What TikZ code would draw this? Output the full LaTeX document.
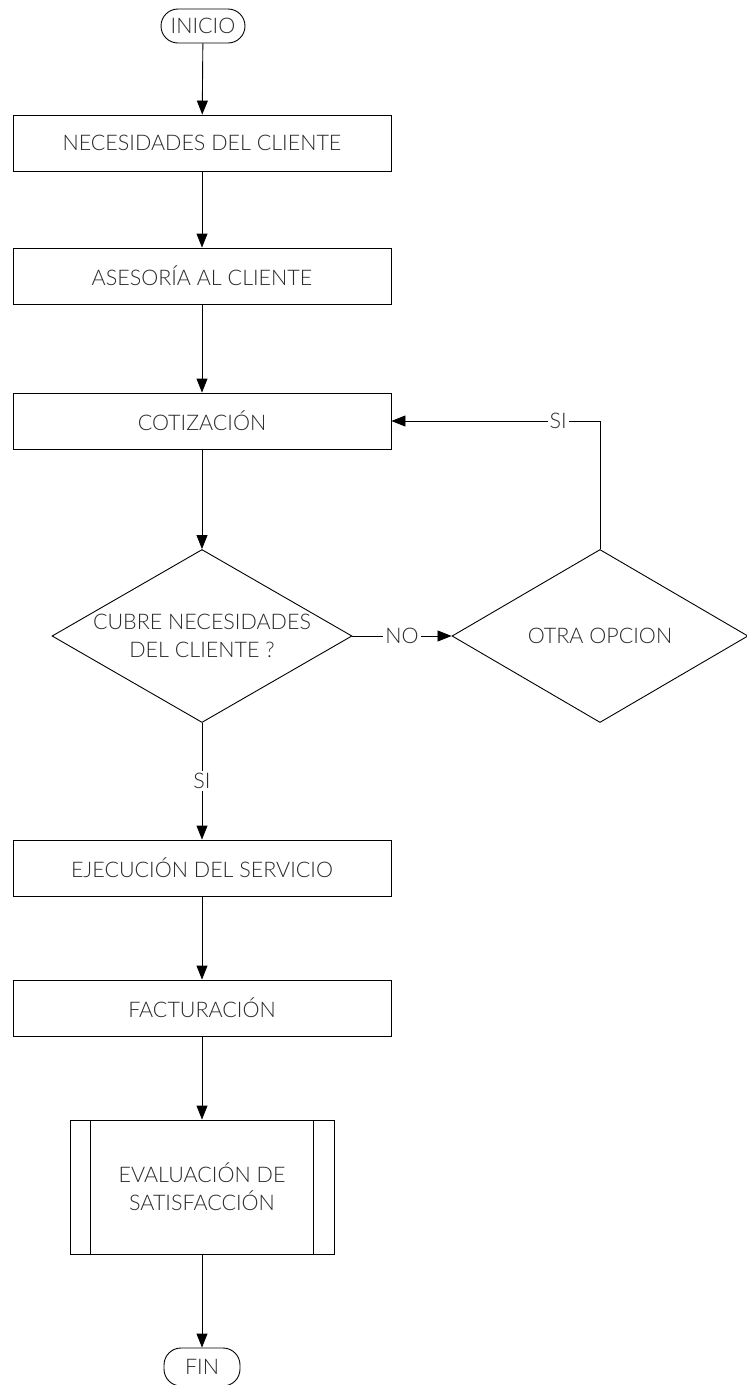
\documentclass[tikz,border=0pt]{standalone}
\usepackage{fontspec}
\setmainfont{Lato}[UprightFont={* Light}]
\usetikzlibrary{shapes.geometric,arrows.meta}
\definecolor{txt}{HTML}{2A2A2A}
\begin{document}
\begin{tikzpicture}[x=1pt,y=-1pt,
  every node/.style={font=\fontsize{21.5}{28}\selectfont, text=txt},
  proc/.style={draw, line width=0.9pt, minimum width=378pt, minimum height=56pt, inner sep=0pt},
  term/.style={draw, line width=0.9pt, rounded corners=17pt, minimum height=34pt, inner sep=0pt},
  decision/.style={draw, diamond, line width=0.9pt, minimum width=300pt, minimum height=173pt, inner sep=0pt},
  predef/.style={draw, line width=0.9pt, minimum width=264pt, minimum height=134pt, inner sep=0pt, align=center},
  flow/.style={line width=0.9pt, -{Triangle[width=11pt,length=14pt]}},
  lbl/.style={fill=white, inner sep=2pt}]
  \fill[white] (0,0) rectangle (747,1385);
  \useasboundingbox (0,0) rectangle (747,1385);
  \clip (0,0) rectangle (747,1385);

  % terminals, steps and decisions
  \node[term, minimum width=84pt] (inicio) at (203,26) {INICIO};
  \node[proc] (nec) at (202,143) {NECESIDADES DEL CLIENTE};
  \node[proc] (ase) at (202,276) {ASESORÍA AL CLIENTE};
  \node[proc] (cot) at (202,421) {COTIZACIÓN};
  \node[decision] (cubre) at (202,636) {};
  \node[align=center] (cubretxt) at (cubre.center) {CUBRE NECESIDADES\\DEL CLIENTE ?};
  \node[decision, minimum width=296pt] (otra) at (600,636) {};
  \node (otratxt) at (otra.center) {OTRA OPCION};
  \node[proc] (eje) at (202,868) {EJECUCIÓN DEL SERVICIO};
  \node[proc] (fac) at (202,1008) {FACTURACIÓN};
  \node[predef] (eval) at (202,1187) {EVALUACIÓN DE\\SATISFACCIÓN};
  \draw[line width=0.9pt] ([xshift=21pt]eval.north west) -- ([xshift=21pt]eval.south west);
  \draw[line width=0.9pt] ([xshift=-21pt]eval.north east) -- ([xshift=-21pt]eval.south east);
  \node[term, minimum width=76pt, minimum height=38pt] (fin) at (202,1367) {FIN};

  % connectors
  \draw[flow] (inicio) -- (nec);
  \draw[flow] (nec) -- (ase);
  \draw[flow] (ase) -- (cot);
  \draw[flow] (cot) -- (cubre);
  \draw[flow] (cubre) -- node[lbl] {NO} (otra);
  \draw[flow] (otra.north) |- node[lbl, pos=0.6] {SI} (cot.east);
  \draw[flow] (cubre) -- node[lbl] {SI} (eje);
  \draw[flow] (eje) -- (fac);
  \draw[flow] (fac) -- (eval);
  \draw[flow] (eval) -- (fin);
\end{tikzpicture}
\end{document}
